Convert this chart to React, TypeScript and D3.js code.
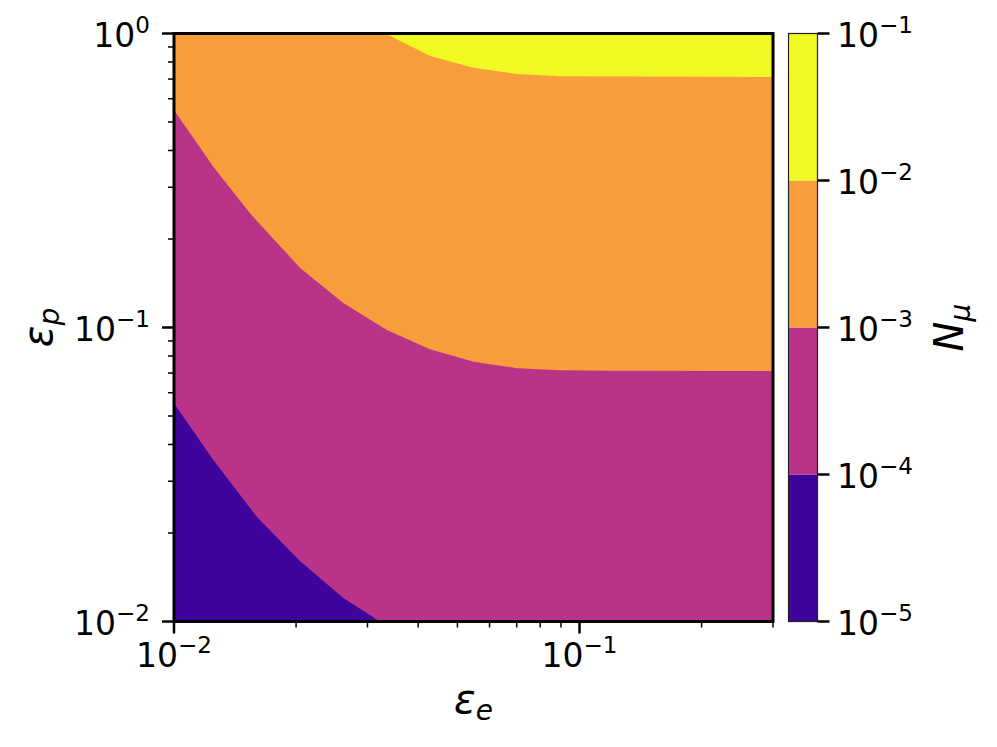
import * as React from "react"
import { scaleLog, line } from "d3"

// contour levels and fill colours (plasma-like)
const levels = [1e-5, 1e-4, 1e-3, 1e-2, 1e-1]
const levelColors = ["#3e049c", "#b93389", "#f89d3c", "#f0f921"]

// boundary N_mu = 1e-4 (eps_e, eps_p)
const b4E = [0.01, 0.0125, 0.016, 0.0205, 0.0262, 0.0322]
const b4P = [0.0552, 0.0354, 0.0227, 0.016, 0.012, 0.01]

// boundary N_mu = 1e-3
const b3E = [0.01, 0.0125, 0.0154, 0.0205, 0.0262, 0.0335, 0.0428, 0.0548, 0.0701, 0.0896, 0.12, 0.3]
const b3P = [0.549, 0.352, 0.2445, 0.159, 0.121, 0.098, 0.0843, 0.0765, 0.0727, 0.0715, 0.0712, 0.0711]

// boundary N_mu = 1e-2
const b2E = [0.0332, 0.0428, 0.0548, 0.0701, 0.0896, 0.3]
const b2P = [1, 0.839, 0.765, 0.728, 0.715, 0.711]

const xDomain = [0.01, 0.3]
const yDomain = [0.01, 1]
const xTicks = [{ v: 0.01, e: "−2" }, { v: 0.1, e: "−1" }]
const yTicks = [{ v: 0.01, e: "−2" }, { v: 0.1, e: "−1" }, { v: 1, e: "0" }]
const cTicks = [{ v: 1e-5, e: "−5" }, { v: 1e-4, e: "−4" }, { v: 1e-3, e: "−3" }, { v: 1e-2, e: "−2" }, { v: 1e-1, e: "−1" }]

const font = "DejaVu Sans"

function App() {
  const width = 997
  const height = 747
  const plot = { left: 174, right: 773, top: 33.5, bottom: 621.5 }
  const cbar = { left: 788.5, right: 817.5 }

  const x = scaleLog().domain(xDomain).range([plot.left, plot.right])
  const y = scaleLog().domain(yDomain).range([plot.bottom, plot.top])
  const yc = scaleLog().domain([levels[0], levels[levels.length - 1]]).range([plot.bottom, plot.top])

  const path = line()
    .x((d) => x(d[0]))
    .y((d) => y(d[1]))

  const zip = (a, b) => a.map((v, i) => [v, b[i]])
  const [x0, x1] = xDomain
  const [y0, y1] = yDomain

  const yellowPoly = [...zip(b2E, b2P), [x1, y1]]
  const magentaPoly = [...zip(b3E, b3P), [x1, y0], [x0, y0]]
  const purplePoly = [...zip(b4E, b4P), [x0, y0]]

  // minor ticks
  const xMinor = []
  for (let d = 0.01; d < 1; d *= 10)
    for (let k = 2; k <= 9; k++) {
      const v = k * d
      if (v <= x1 * 1.0001) xMinor.push(v)
    }
  const yMinor = []
  for (let d = 0.01; d < 1; d *= 10) for (let k = 2; k <= 9; k++) yMinor.push(k * d)

  const tickLabel = (t) => (
    <>
      10
      <tspan fontSize={23} dy={-14}>{t.e}</tspan>
    </>
  )

  return (
    <svg width={width} height={height} style={{ position: "absolute", left: 0, top: 0, background: "#fff" }} fontFamily={font}>
      <defs>
        <clipPath id="plotClip">
          <rect x={plot.left} y={plot.top} width={plot.right - plot.left} height={plot.bottom - plot.top} />
        </clipPath>
      </defs>
      <g clipPath="url(#plotClip)">
        <rect x={plot.left} y={plot.top} width={plot.right - plot.left} height={plot.bottom - plot.top} fill={levelColors[2]} />
        <path d={path(yellowPoly) + "Z"} fill={levelColors[3]} />
        <path d={path(magentaPoly) + "Z"} fill={levelColors[1]} />
        <path d={path(purplePoly) + "Z"} fill={levelColors[0]} />
      </g>

      {/* minor ticks */}
      {xMinor.map((v) => (
        <line key={"xm" + v} x1={x(v)} x2={x(v)} y1={plot.bottom} y2={plot.bottom + 6} stroke="#000" strokeWidth={1.5} />
      ))}
      {yMinor.map((v) => (
        <line key={"ym" + v} x1={plot.left - 6} x2={plot.left} y1={y(v)} y2={y(v)} stroke="#000" strokeWidth={1.5} />
      ))}
      {/* major ticks */}
      {xTicks.map((t) => (
        <g key={"xt" + t.v}>
          <line x1={x(t.v)} x2={x(t.v)} y1={plot.bottom} y2={plot.bottom + 12} stroke="#000" strokeWidth={2.5} />
          <text x={x(t.v)} y={667} fontSize={33} textAnchor="middle">{tickLabel(t)}</text>
        </g>
      ))}
      {yTicks.map((t) => (
        <g key={"yt" + t.v}>
          <line x1={plot.left - 12} x2={plot.left} y1={y(t.v)} y2={y(t.v)} stroke="#000" strokeWidth={2.5} />
          <text x={150} y={y(t.v) + 13} fontSize={33} textAnchor="end">{tickLabel(t)}</text>
        </g>
      ))}

      <rect x={plot.left} y={plot.top} width={plot.right - plot.left} height={plot.bottom - plot.top} fill="none" stroke="#000" strokeWidth={3} />

      {/* axis labels */}
      <text x={(plot.left + plot.right) / 2} y={713} fontSize={40} textAnchor="middle" fontStyle="italic">
        ε<tspan fontSize={28} dy={7}>e</tspan>
      </text>
      <text transform={`translate(52, ${(plot.top + plot.bottom) / 2}) rotate(-90)`} fontSize={40} textAnchor="middle" fontStyle="italic">
        ε<tspan fontSize={28} dy={7}>p</tspan>
      </text>

      {/* colorbar */}
      {levelColors.map((c, i) => (
        <rect key={"cb" + i} x={cbar.left} width={cbar.right - cbar.left} y={yc(levels[i + 1])} height={yc(levels[i]) - yc(levels[i + 1])} fill={c} />
      ))}
      <rect x={cbar.left} y={plot.top} width={cbar.right - cbar.left} height={plot.bottom - plot.top} fill="none" stroke="#222" strokeWidth={1.2} />
      {cTicks.map((t) => (
        <g key={"ct" + t.v}>
          <line x1={cbar.right} x2={cbar.right + 12} y1={yc(t.v)} y2={yc(t.v)} stroke="#000" strokeWidth={2.5} />
          <text x={837} y={yc(t.v) + 13} fontSize={33}>{tickLabel(t)}</text>
        </g>
      ))}
      <text transform={`translate(963, ${(plot.top + plot.bottom) / 2}) rotate(-90)`} fontSize={40} textAnchor="middle" fontStyle="italic">
        N<tspan fontSize={28} dy={7}>μ</tspan>
      </text>
    </svg>
  )
}

export default App
